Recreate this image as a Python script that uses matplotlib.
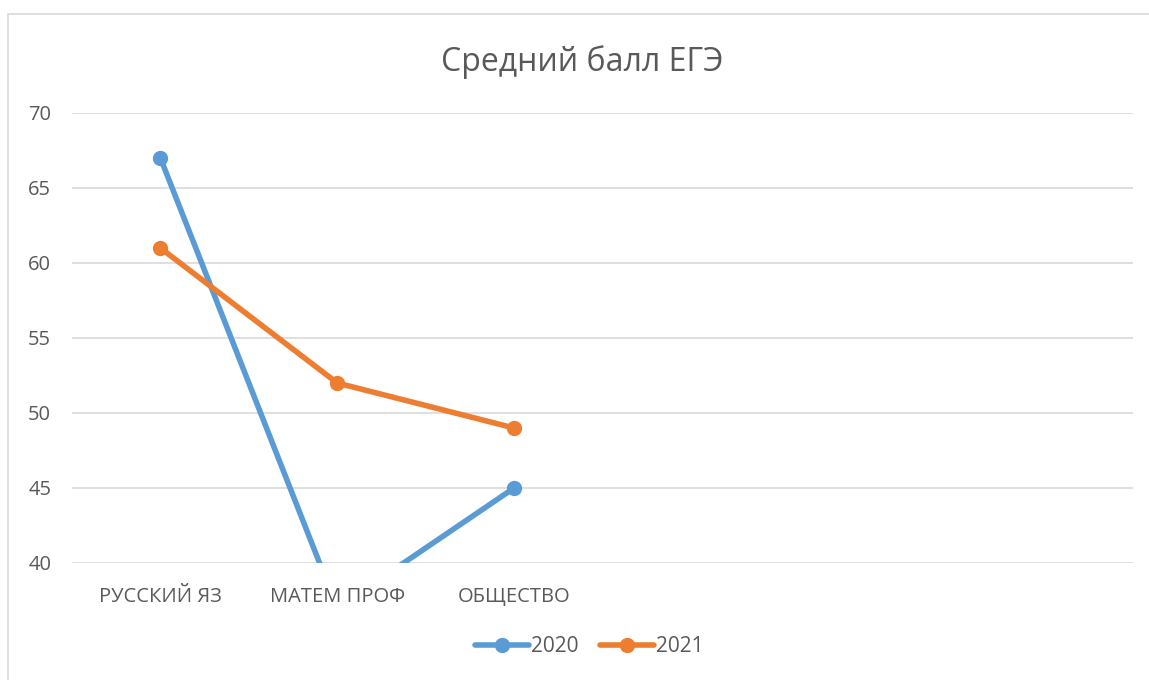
import matplotlib

matplotlib.use("Agg")
import matplotlib.pyplot as plt
from matplotlib.patches import Rectangle

plt.rcParams["font.family"] = ["Open Sans", "DejaVu Sans"]

# data (Excel chart with 6 category slots, 3 filled)
categories = ["РУССКИЙ ЯЗ", "МАТЕМ ПРОФ", "ОБЩЕСТВО", "", "", ""]
scores_2020 = [67, 37, 45]
scores_2021 = [61, 52, 49]
y_ticks = [40, 45, 50, 55, 60, 65, 70]

BLUE = "#5B9BD5"
ORANGE = "#ED7D31"
TEXT = "#595959"
GRID = "#D9D9D9"

fig = plt.figure(figsize=(11.49, 6.8), dpi=100)
fig.patches.append(
    Rectangle((8 / 1149, -0.01), 1.0, 1 - 14 / 680 + 0.01, transform=fig.transFigure,
              fill=False, edgecolor="#D9D9D9", linewidth=1.2)
)
ax = fig.add_axes([72 / 1149, 1 - 563 / 680, (1133 - 72) / 1149, (563 - 113) / 680])

x = range(len(categories))
ax.plot(x[:3], scores_2020, color=BLUE, lw=4, marker="o", ms=10, label="2020",
        solid_capstyle="round", zorder=3)
ax.plot(x[:3], scores_2021, color=ORANGE, lw=4, marker="o", ms=10, label="2021",
        solid_capstyle="round", zorder=4)

ax.set_xlim(-0.5, len(categories) - 0.5)
ax.set_ylim(40, 70)
ax.set_yticks(y_ticks)
ax.set_xticks(list(x))
ax.set_xticklabels(categories)
ax.tick_params(axis="both", length=0, colors=TEXT, labelsize=14.5)
ax.tick_params(axis="x", pad=17)
ax.tick_params(axis="y", pad=15)
ax.grid(axis="y", color=GRID, lw=1.2)
ax.set_axisbelow(True)
for s in ax.spines.values():
    s.set_visible(False)

fig.text(0.507, 1 - 62 / 680, "Средний балл ЕГЭ", ha="center", va="center",
         fontsize=23, color=TEXT)

fig.legend(loc="center", bbox_to_anchor=(0.513, 1 - 647 / 680), ncol=2, frameon=False,
           fontsize=15, labelcolor=TEXT, handlelength=2.6, columnspacing=1.0,
           handletextpad=0.1)

fig.savefig("out.png", dpi=100)
